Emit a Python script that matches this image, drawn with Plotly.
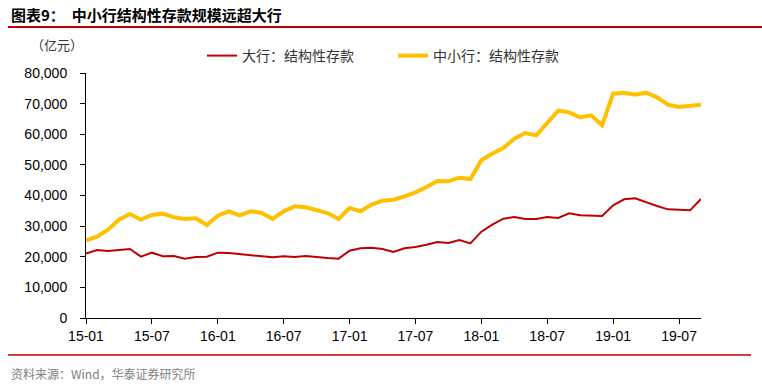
import plotly.graph_objects as go

months = [f"{y:02d}-{m:02d}" for y in range(15, 20) for m in range(1, 13)][:57]
tick_labels = ["15-01", "15-07", "16-01", "16-07", "17-01", "17-07", "18-01", "18-07", "19-01", "19-07"]

big_banks = [21010, 22200, 21880, 22200, 22530, 20030, 21330, 20140, 20240, 19370,
             19920, 20030, 21330, 21220, 20900, 20460, 20140, 19810, 20140, 19920,
             20240, 19810, 19590, 19370, 21990, 22750, 22970, 22530, 21550, 22750,
             23180, 23940, 24820, 24490, 25470, 24380, 28190, 30480, 32430, 32980,
             32330, 32330, 32980, 32650, 34180, 33520, 33520, 33300, 36790, 38750,
             39070, 37770, 36570, 35480, 35370, 35150, 38860]
small_banks = [25360, 26560, 28840, 32110, 33960, 32110, 33630, 34070, 32870, 32330,
               32540, 30370, 33410, 34830, 33520, 34830, 34280, 32330, 34830, 36460,
               36130, 35370, 34280, 32330, 35920, 34830, 37010, 38310, 38640, 39730,
               41030, 42770, 44730, 44620, 45820, 45390, 51500, 53700, 55510, 58560,
               60400, 59640, 63890, 67700, 67150, 65520, 66170, 62910, 73250, 73580,
               72920, 73580, 72050, 69660, 68900, 69440, 69660]

font_fam = "Liberation Sans, Arial, Noto Sans CJK SC, sans-serif"
cjk = "Noto Sans CJK SC"

W, H = 762, 387
PL, PT, PW, PH = 86, 73, 615, 245


def px(x):
    return (x - PL) / PW


def py(y):
    return (PT + PH - y) / PH


fig = go.Figure()
fig.add_trace(go.Scatter(x=months, y=big_banks, mode="lines", name="大行：结构性存款",
                         line=dict(color="#C00000", width=2)))
fig.add_trace(go.Scatter(x=months, y=small_banks, mode="lines", name="中小行：结构性存款",
                         line=dict(color="#FFC000", width=4)))

fig.update_layout(
    width=W, height=H,
    margin=dict(l=PL, r=W - PL - PW, t=PT, b=H - PT - PH),
    paper_bgcolor="white", plot_bgcolor="white",
    font=dict(family=font_fam, size=14, color="black"),
    showlegend=True,
    legend=dict(orientation="h", x=px(242 - 40), xanchor="left", y=py(56), yanchor="middle",
                font=dict(family=cjk, size=14, color="#333333"),
                entrywidth=146, entrywidthmode="pixels", bgcolor="rgba(0,0,0,0)",
                borderwidth=0),
    xaxis=dict(type="category", range=[0, 56], tickmode="array", tickvals=tick_labels,
               ticktext=tick_labels, showgrid=False, showline=True, linecolor="black",
               linewidth=1, ticks="outside", ticklen=5, tickcolor="black",
               tickfont=dict(size=14, family=font_fam)),
    yaxis=dict(range=[0, 80000], dtick=10000, tickformat=",", showgrid=False,
               showline=True, linecolor="black", linewidth=1, ticks="outside",
               ticklen=5, tickcolor="black", zeroline=False, ticklabelstandoff=10,
               tickfont=dict(size=14, family=font_fam)),
    shapes=[
        dict(type="line", xref="paper", yref="paper", x0=px(8), x1=px(762),
             y0=py(27), y1=py(27), line=dict(color="#C00000", width=2)),
        dict(type="line", xref="paper", yref="paper", x0=px(8), x1=px(751),
             y0=py(355), y1=py(355), line=dict(color="#C00000", width=1.5)),
    ],
    annotations=[
        dict(text="<b>图表9：  中小行结构性存款规模远超大行</b>", xref="paper", yref="paper",
             x=px(9), y=py(14), xanchor="left", yanchor="middle", showarrow=False,
             font=dict(family=cjk, size=15, color="black")),
        dict(text="（亿元）", xref="paper", yref="paper", x=px(29), y=py(45),
             xanchor="left", yanchor="middle", showarrow=False,
             font=dict(family=cjk, size=13, color="#333333")),
        dict(text="资料来源：Wind，华泰证券研究所", xref="paper", yref="paper",
             x=px(9), y=py(373), xanchor="left", yanchor="middle", showarrow=False,
             font=dict(family=cjk, size=12, color="#808080")),
    ],
)

fig.write_html("out.html", config={"displayModeBar": False},
               post_script="document.body.style.margin='0';")
